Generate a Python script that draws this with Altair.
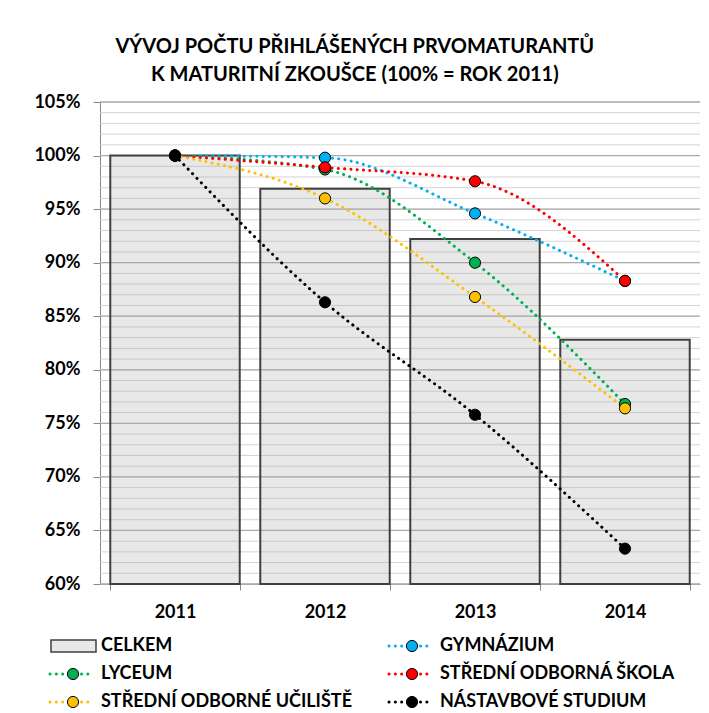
import altair as alt
import pandas as pd

FONT = "Lato"

years = ["2011", "2012", "2013", "2014"]
celkem = [100.0, 96.9, 92.2, 82.8]
series_names = ["GYMNÁZIUM", "LYCEUM", "STŘEDNÍ ODBORNÁ ŠKOLA",
                "STŘEDNÍ ODBORNÉ UČILIŠTĚ", "NÁSTAVBOVÉ STUDIUM"]
gymnazium = [100.0, 99.8, 94.6, 88.3]
lyceum = [100.0, 98.7, 90.0, 76.8]
sos = [100.0, 98.9, 97.6, 88.3]
sou = [100.0, 96.0, 86.8, 76.4]
nastavbove = [100.0, 86.3, 75.8, 63.3]
series_colors = ["#00B0F0", "#00B050", "#FF0000", "#FFC000", "#000000"]

y_major = [60, 65, 70, 75, 80, 85, 90, 95, 100, 105]
y_minor = list(range(60, 106))

legend_names = ["CELKEM", "GYMNÁZIUM", "LYCEUM", "STŘEDNÍ ODBORNÁ ŠKOLA",
                "STŘEDNÍ ODBORNÉ UČILIŠTĚ", "NÁSTAVBOVÉ STUDIUM"]
legend_col = [0, 1, 0, 1, 0, 1]
legend_row = [0, 0, 1, 1, 2, 2]
legend_kind = ["bar", "line", "line", "line", "line", "line"]

title_lines = ["VÝVOJ POČTU PŘIHLÁŠENÝCH PRVOMATURANTŮ",
               "K MATURITNÍ ZKOUŠCE (100% = ROK 2011)"]

# ---------- data tables ----------
bars_df = pd.DataFrame({"year": years, "value": celkem})
rows = []
for name, vals in zip(series_names, [gymnazium, lyceum, sos, sou, nastavbove]):
    for yr, v in zip(years, vals):
        rows.append({"series": name, "year": yr, "value": v})
lines_df = pd.DataFrame(rows)
major_df = pd.DataFrame({"v": y_major})
minor_df = pd.DataFrame({"v": y_minor})
legend_df = pd.DataFrame({"name": legend_names, "col": legend_col,
                          "row": legend_row, "kind": legend_kind})

W, H = 600, 482
DOT = [0.1, 6.2]

yscale = alt.Scale(domain=[60, 105], nice=False, zero=False)
xscale = alt.Scale(domain=years, paddingInner=0.137, paddingOuter=0.0685)
color_scale = alt.Scale(domain=series_names, range=series_colors)

yaxis = alt.Axis(values=y_major, labelExpr="datum.value + '%'", title=None,
                 grid=False, labelFont=FONT, labelFontSize=18, labelFontWeight="bold",
                 labelColor="#000000", tickColor="#868686", tickSize=7,
                 domainColor="#868686", labelPadding=13, minExtent=67, maxExtent=67)
xaxis = alt.Axis(title=None, labelAngle=0, grid=False, labelFont=FONT,
                 labelFontSize=18, labelFontWeight="bold", labelColor="#000000",
                 tickColor="#868686", tickSize=6, tickBand="extent",
                 domainColor="#868686", labelPadding=13)

minor = alt.Chart(minor_df).mark_rule(color="#D4D4D4", strokeWidth=1).encode(
    y=alt.Y("v:Q", scale=yscale, axis=yaxis))
major = alt.Chart(major_df).mark_rule(color="#ABABAB", strokeWidth=1.3).encode(
    y=alt.Y("v:Q", scale=yscale, axis=yaxis))
bars = alt.Chart(bars_df).mark_bar(fill="#A6A6A6", fillOpacity=0.26,
                                   stroke="#404040", strokeWidth=2).encode(
    x=alt.X("year:N", scale=xscale, axis=xaxis, sort=years),
    y=alt.Y("value:Q", scale=yscale, axis=yaxis),
    y2=alt.datum(60))
lines = alt.Chart(lines_df).mark_line(interpolate="monotone", strokeWidth=3,
                                      strokeDash=DOT, strokeCap="round").encode(
    x=alt.X("year:N", scale=xscale, axis=xaxis, sort=years),
    y=alt.Y("value:Q", scale=yscale, axis=yaxis),
    color=alt.Color("series:N", scale=color_scale, legend=None, sort=series_names))
points = alt.Chart(lines_df).mark_circle(size=125, opacity=1, stroke="#000000",
                                         strokeWidth=1).encode(
    x=alt.X("year:N", scale=xscale, axis=xaxis, sort=years),
    y=alt.Y("value:Q", scale=yscale, axis=yaxis),
    color=alt.Color("series:N", scale=color_scale, legend=None, sort=series_names))

main = alt.layer(minor, major, bars, lines, points).properties(width=W, height=H)

# ---------- legend ----------
lx = alt.Scale(domain=[0, 1], range=[-27, 312])
ly = alt.Scale(domain=[0, 2], range=[17, 73])
leg_color = alt.Scale(domain=series_names, range=series_colors)
base = alt.Chart(legend_df)
leg_rect = base.transform_filter("datum.kind == 'bar'").mark_rect(
    fill="#E8E8E8", stroke="#404040", strokeWidth=1.5,
    xOffset=-22, x2Offset=23, yOffset=-6, y2Offset=6).encode(
    x=alt.X("col:Q", scale=lx, axis=None), x2="col:Q",
    y=alt.Y("row:Q", scale=ly, axis=None), y2="row:Q")
leg_line = base.transform_filter("datum.kind == 'line'").mark_rule(
    strokeWidth=3, strokeDash=DOT, strokeCap="round", xOffset=-23, x2Offset=19).encode(
    x=alt.X("col:Q", scale=lx, axis=None), x2="col:Q",
    y=alt.Y("row:Q", scale=ly, axis=None),
    color=alt.Color("name:N", scale=leg_color, legend=None))
leg_pt = base.transform_filter("datum.kind == 'line'").mark_circle(
    size=125, opacity=1, stroke="#000000", strokeWidth=1).encode(
    x=alt.X("col:Q", scale=lx, axis=None),
    y=alt.Y("row:Q", scale=ly, axis=None),
    color=alt.Color("name:N", scale=leg_color, legend=None))
leg_text = base.mark_text(align="left", baseline="middle", dx=28, font=FONT,
                          fontSize=18, fontWeight="bold", color="#000000").encode(
    x=alt.X("col:Q", scale=lx, axis=None),
    y=alt.Y("row:Q", scale=ly, axis=None),
    text="name:N")
legend = alt.layer(leg_rect, leg_line, leg_pt, leg_text).properties(width=W, height=80)

chart = alt.vconcat(main, legend, spacing=8).resolve_scale(
    x="independent", y="independent", color="independent").properties(
    title=alt.TitleParams(title_lines, font=FONT, fontSize=20, fontWeight="bold",
                          color="#000000", anchor="middle", lineHeight=28, offset=8,
                          dx=-12),
    padding={"left": 25, "top": 29, "right": 0, "bottom": 0},
    background="#FFFFFF",
).configure_view(strokeWidth=0).configure_concat(spacing=8)

chart.save("out.html", embed_options={"renderer": "svg", "actions": False})
